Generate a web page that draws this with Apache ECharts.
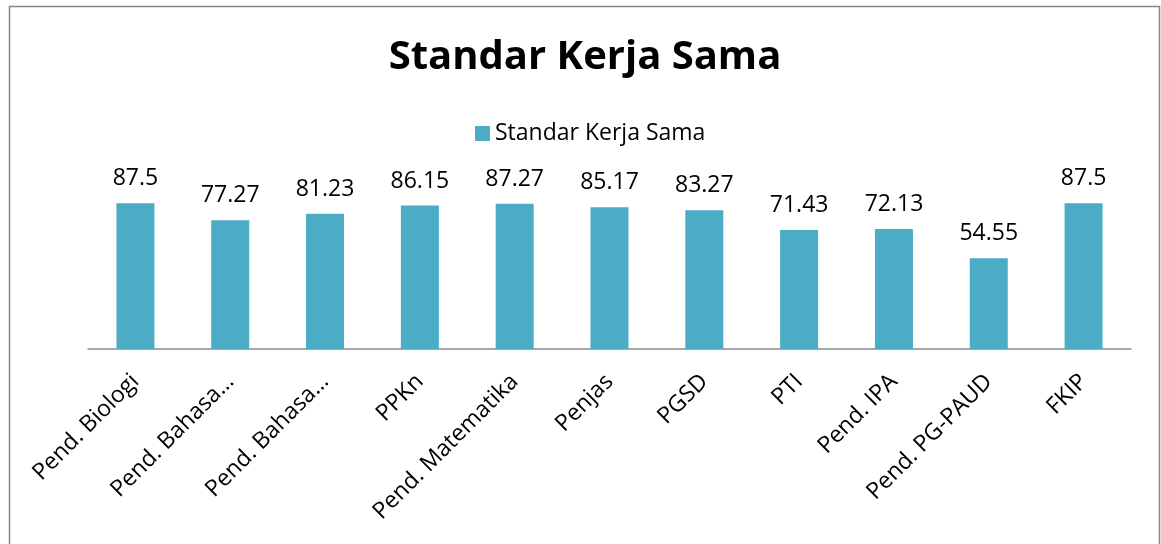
<!DOCTYPE html>
<html>
<head>
<meta charset="utf-8">
<script src="https://cdn.jsdelivr.net/npm/echarts@6/dist/echarts.min.js"></script>
<style>
    html, body { margin: 0; padding: 0; background: #fff; }
    #main { width: 1161px; height: 544px; }
</style>
</head>
<body>
<div id="main"></div>
<script>
// data
var categories = ['Pend. Biologi', 'Pend. Bahasa…', 'Pend. Bahasa…', 'PPKn', 'Pend. Matematika',
    'Penjas', 'PGSD', 'PTI', 'Pend. IPA', 'Pend. PG-PAUD', 'FKIP'];
var values = [87.5, 77.27, 81.23, 86.15, 87.27, 85.17, 83.27, 71.43, 72.13, 54.55, 87.5];
var seriesName = 'Standar Kerja Sama';

(function() {
    var chart = echarts.init(document.getElementById('main'));
    var font = '"Open Sans", sans-serif';
    var option = {
        backgroundColor: '#fff',
        animation: false,
        title: {
            text: 'Standar Kerja Sama',
            left: 580,
            textAlign: 'center',
            top: 33,
            textStyle: { fontFamily: font, fontSize: 40, fontWeight: 'bold', color: '#000' }
        },
        legend: {
            data: [seriesName],
            top: 117,
            left: 470,
            icon: 'rect',
            itemWidth: 15,
            itemHeight: 15,
            itemGap: 7,
            textStyle: { fontFamily: font, fontSize: 23, color: '#000' }
        },
        graphic: [{
            type: 'rect',
            shape: { x: 9.5, y: 6.5, width: 1150, height: 600 },
            style: { fill: 'none', stroke: '#878787', lineWidth: 1.5 },
            silent: true
        }],
        grid: { left: 88, right: 30, top: 182.5, bottom: 195 },
        xAxis: {
            type: 'category',
            data: categories,
            axisLine: { lineStyle: { color: '#8c8c8c', width: 1.5 } },
            axisTick: { show: false },
            axisLabel: {
                rotate: 45,
                interval: 0,
                margin: 29,
                fontFamily: font,
                fontSize: 23,
                color: '#000'
            }
        },
        yAxis: {
            type: 'value',
            min: 0,
            max: 100,
            show: false,
            splitLine: { show: false }
        },
        series: [{
            name: seriesName,
            type: 'bar',
            data: values,
            barWidth: 38,
            itemStyle: { color: '#4BACC6' },
            label: {
                show: true,
                position: 'top',
                distance: 13,
                fontFamily: font,
                fontSize: 23,
                color: '#000'
            }
        }]
    };
    chart.setOption(option);
})();
</script>
</body>
</html>
